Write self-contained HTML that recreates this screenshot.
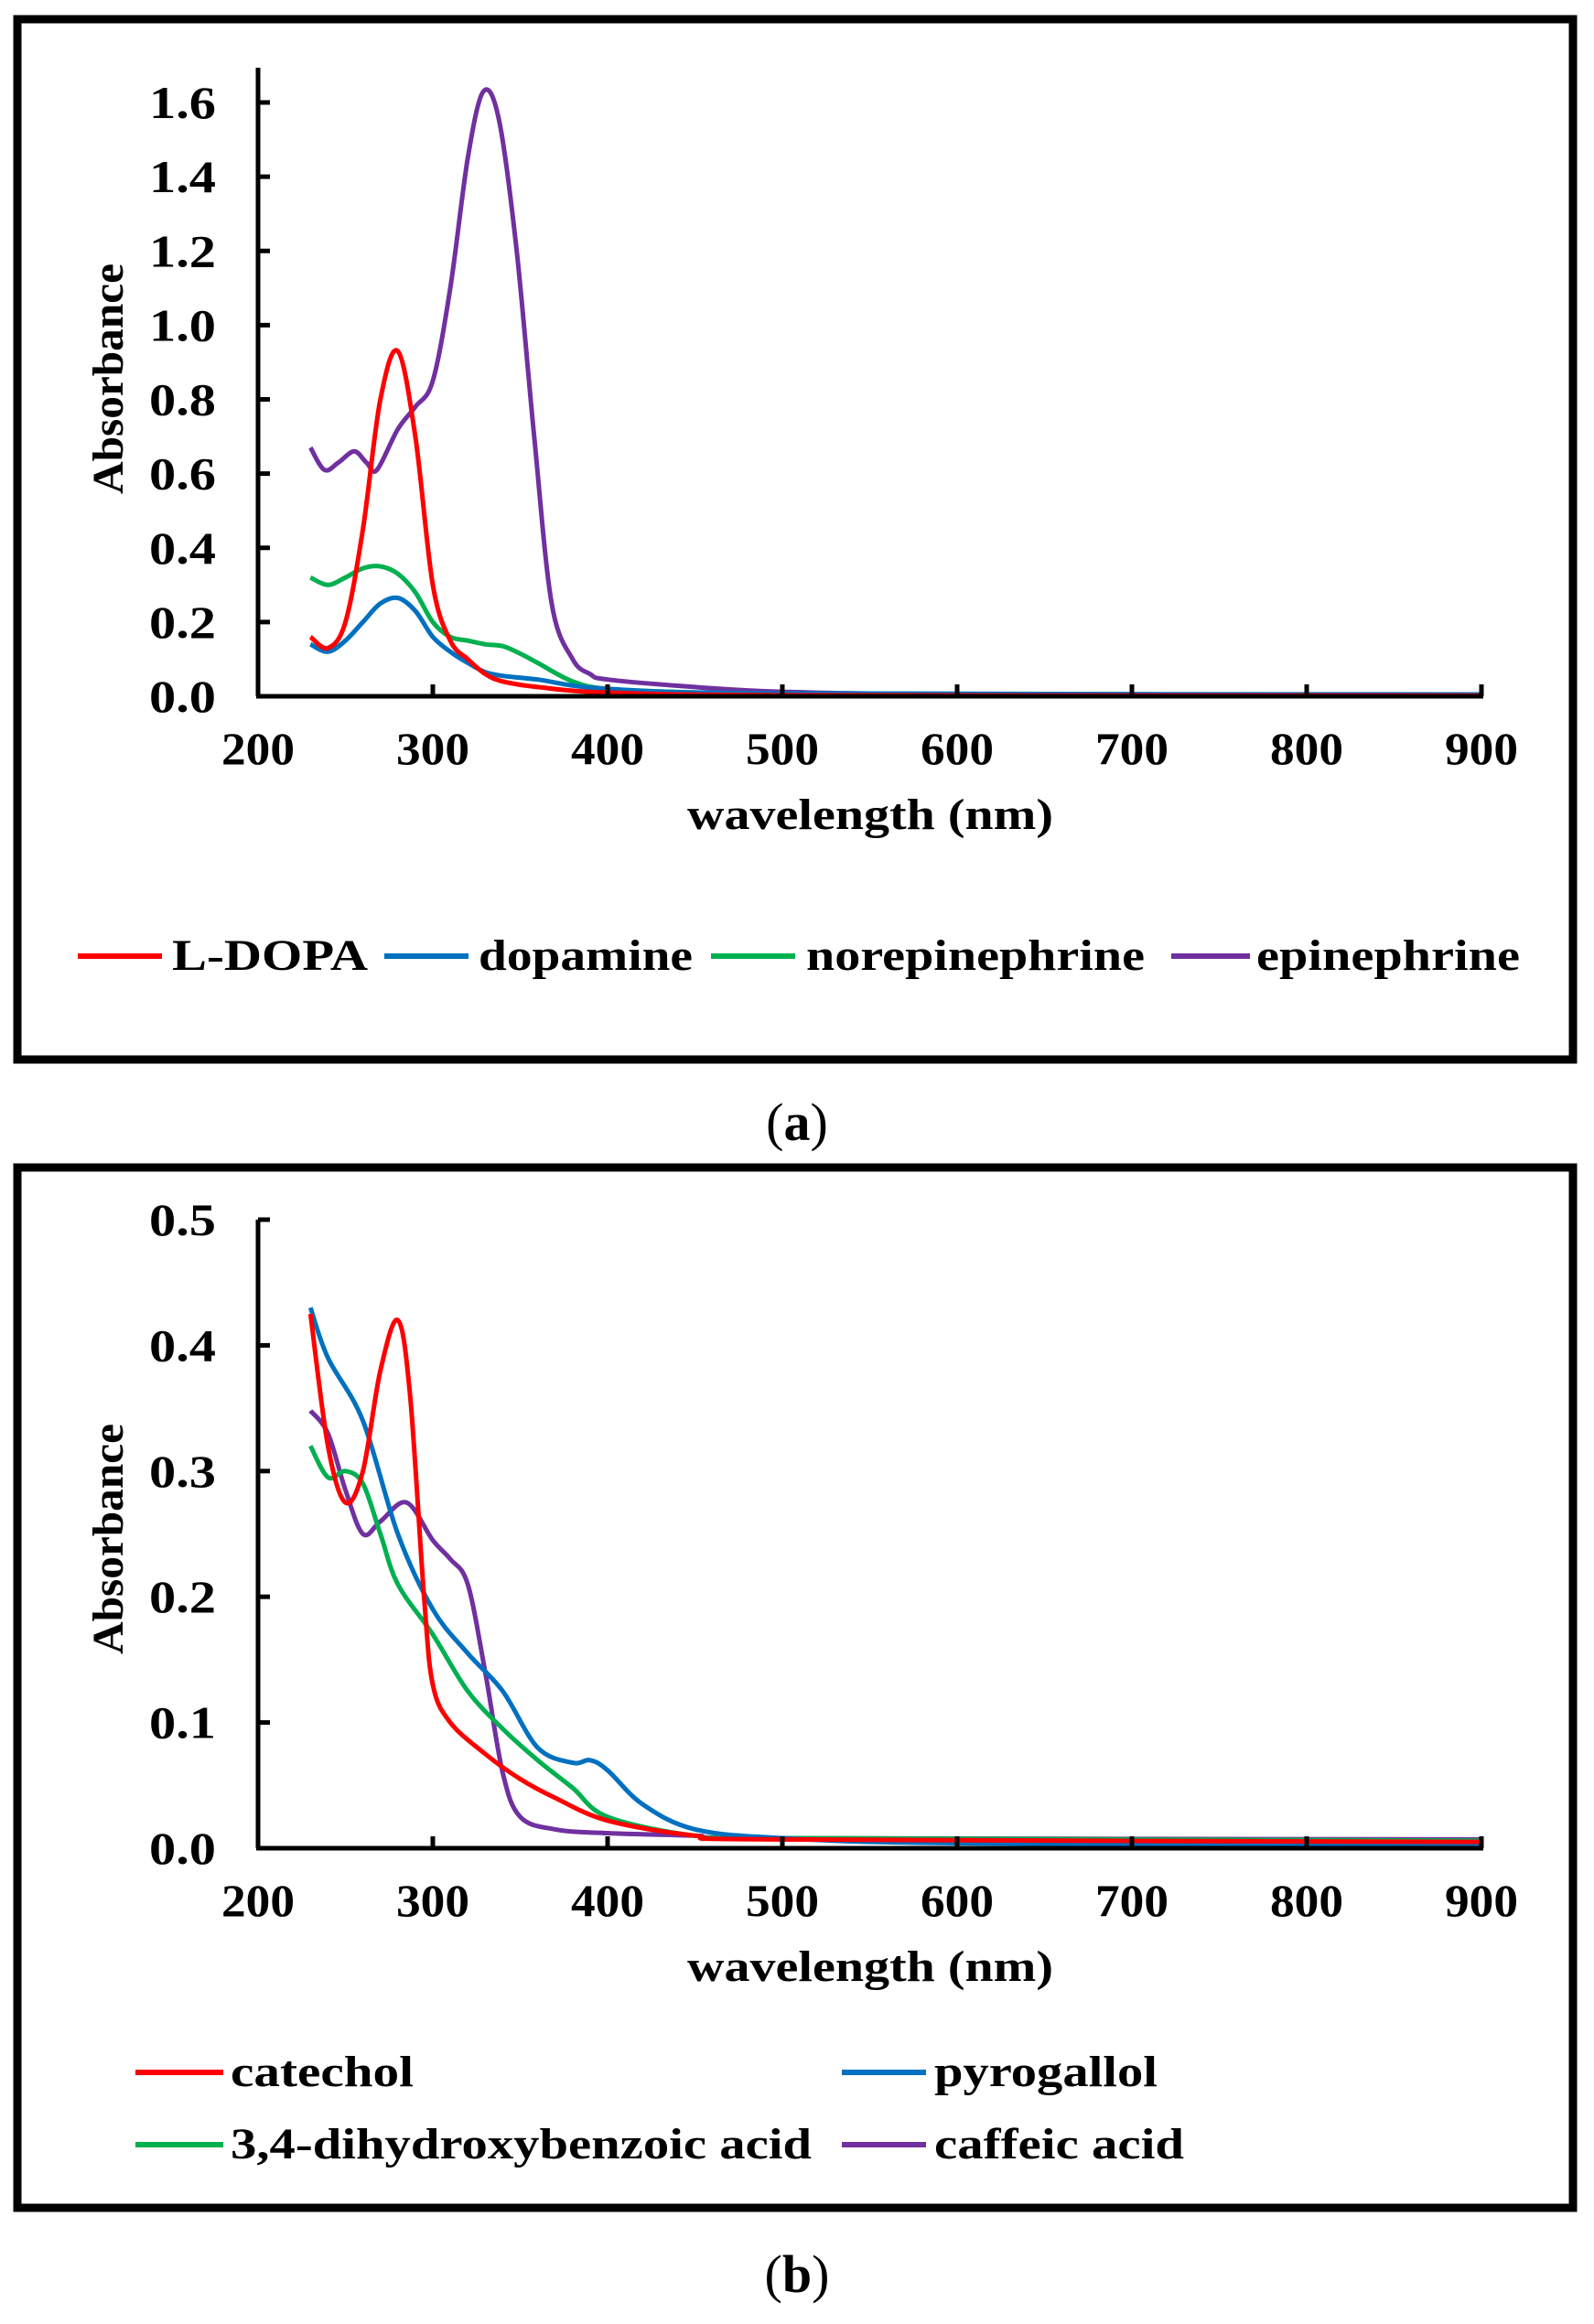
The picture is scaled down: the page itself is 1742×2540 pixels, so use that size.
<!DOCTYPE html>
<html><head><meta charset="utf-8">
<style>
html,body{margin:0;padding:0;background:#fff;}
svg{display:block;font-family:"Liberation Serif",serif;font-weight:bold;}
</style></head>
<body>
<svg id="root" width="1742" height="2540" viewBox="0 0 1742 2540" xmlns="http://www.w3.org/2000/svg">
<rect x="0" y="0" width="1742" height="2540" fill="#fff"/>
<rect x="19" y="21" width="1700" height="1137" fill="#fff" stroke="#000" stroke-width="9"/>
<rect x="19" y="1276" width="1700" height="1137" fill="#fff" stroke="#000" stroke-width="9"/>
<g id="ga"></g>
<g id="gb"></g>
<text x="871" y="1246" font-size="58" font-weight="normal" text-anchor="middle">(<tspan font-weight="bold">a</tspan>)</text>
<text x="871" y="2505" font-size="58" font-weight="normal" text-anchor="middle">(<tspan font-weight="bold">b</tspan>)</text>
</svg>
<script>
// ---- Chart A data ----
const xTicksA = [200,300,400,500,600,700,800,900];
const yTicksA = [0,0.2,0.4,0.6,0.8,1.0,1.2,1.4,1.6];
const yLabelsA = ["0.0","0.2","0.4","0.6","0.8","1.0","1.2","1.4","1.6"];
const seriesNamesA = ["L-DOPA","dopamine","norepinephrine","epinephrine"];
const ldopaX = [230,240,250,260,270,280,290,300,310,320,330,340,360,400,500,900];
const ldopaY = [0.16,0.13,0.2,0.45,0.8,0.93,0.7,0.3,0.15,0.1,0.06,0.04,0.025,0.01,0.003,0.002];
const dopamineX = [230,240,250,260,270,280,290,300,310,320,330,340,360,400,500,900];
const dopamineY = [0.14,0.12,0.15,0.2,0.25,0.265,0.23,0.16,0.12,0.09,0.065,0.055,0.045,0.02,0.008,0.005];
const norepiX = [230,240,250,260,270,280,290,300,310,320,330,340,350,360,380,400,450,500,900];
const norepiY = [0.32,0.3,0.32,0.345,0.35,0.33,0.28,0.2,0.16,0.15,0.14,0.135,0.115,0.09,0.04,0.02,0.01,0.006,0.004];
const epiX = [230,238,246,255,262,268,280,290,300,310,320,329,338,348,358,368,380,390,400,450,500,600,900];
const epiY = [0.67,0.61,0.63,0.66,0.63,0.61,0.72,0.78,0.85,1.1,1.45,1.63,1.55,1.2,0.7,0.25,0.1,0.06,0.045,0.025,0.012,0.006,0.004];
// ---- Chart B data ----
const xTicksB = [200,300,400,500,600,700,800,900];
const yTicksB = [0,0.1,0.2,0.3,0.4,0.5];
const yLabelsB = ["0.0","0.1","0.2","0.3","0.4","0.5"];
const seriesNamesB = ["catechol","pyrogallol","3,4-dihydroxybenzoic acid","caffeic acid"];
const catecholX = [230,240,250,260,270,280,287,295,300,310,330,350,370,400,450,500,900];
const catecholY = [0.425,0.32,0.275,0.3,0.38,0.42,0.36,0.2,0.13,0.1,0.075,0.055,0.04,0.022,0.01,0.007,0.005];
const pyroX = [230,240,260,280,300,320,340,360,380,390,400,420,450,500,600,900];
const pyroY = [0.43,0.39,0.34,0.25,0.19,0.155,0.125,0.08,0.068,0.07,0.062,0.035,0.015,0.008,0.004,0.002];
const dhbaX = [230,240,250,260,270,280,300,320,340,360,380,400,450,500,900];
const dhbaY = [0.32,0.295,0.3,0.29,0.25,0.21,0.17,0.125,0.095,0.07,0.048,0.025,0.01,0.008,0.006];
const caffX = [230,240,250,260,270,285,300,310,320,330,340,350,370,400,450,500,900];
const caffY = [0.348,0.33,0.285,0.25,0.26,0.275,0.245,0.23,0.21,0.14,0.06,0.025,0.015,0.012,0.01,0.008,0.007];

const NS="http://www.w3.org/2000/svg";
function mk(tag, attrs, parent){const e=document.createElementNS(NS,tag);for(const k in attrs)e.setAttribute(k,attrs[k]);parent.appendChild(e);return e;}
function smooth(pts){
  let d="M"+pts[0][0].toFixed(1)+","+pts[0][1].toFixed(1);
  for(let i=0;i<pts.length-1;i++){
    const p0=pts[Math.max(0,i-1)],p1=pts[i],p2=pts[i+1],p3=pts[Math.min(pts.length-1,i+2)];
    const c1=[p1[0]+(p2[0]-p0[0])/6,p1[1]+(p2[1]-p0[1])/6];
    const c2=[p2[0]-(p3[0]-p1[0])/6,p2[1]-(p3[1]-p1[1])/6];
    d+=" C"+c1[0].toFixed(1)+","+c1[1].toFixed(1)+" "+c2[0].toFixed(1)+","+c2[1].toFixed(1)+" "+p2[0].toFixed(1)+","+p2[1].toFixed(1);
  }
  return d;
}
function drawChart(g, cfg){
  const X=v=>cfg.x0+(v-200)/700*(cfg.x1-cfg.x0);
  const Y=v=>cfg.y0-(v/cfg.ymax)*(cfg.y0-cfg.ytop);
  cfg.series.forEach(s=>{
    const pts=s.xs.map((x,i)=>[X(x),Y(s.ys[i])]);
    const p=mk('path',{d:smooth(pts),fill:'none',stroke:s.color,'stroke-width':5,'stroke-linejoin':'round'},g);
    
    
  });
  const ya=mk('line',{x1:cfg.x0,y1:cfg.axisTop,x2:cfg.x0,y2:cfg.y0,stroke:'#000','stroke-width':5},g);
  
  
  const xa=mk('line',{x1:cfg.x0-2,y1:cfg.y0,x2:cfg.x1+2,y2:cfg.y0,stroke:'#000','stroke-width':5},g);
  
  
  cfg.yTicks.forEach((v,i)=>{
    const t=mk('line',{x1:cfg.x0,y1:Y(v),x2:cfg.x0+13,y2:Y(v),stroke:'#000','stroke-width':5},g);
    
    
    const l=mk('text',{x:cfg.x0-46,y:Y(v)+17,'font-size':50,'text-anchor':'end',textLength:73,lengthAdjust:'spacingAndGlyphs'},g);
    l.textContent=cfg.yLabels[i];
    
    
  });
  cfg.xTicks.forEach(v=>{
    if(v>200){
      const t=mk('line',{x1:X(v),y1:cfg.y0,x2:X(v),y2:cfg.y0-13,stroke:'#000','stroke-width':5},g);
      
      
    }
    const l=mk('text',{x:X(v),y:cfg.y0+74,'font-size':50,'text-anchor':'middle',textLength:80,lengthAdjust:'spacingAndGlyphs'},g);
    l.textContent=String(v);
    
    
  });
  const xt=mk('text',{x:951,y:cfg.y0+145,'font-size':48,'text-anchor':'middle',textLength:400,lengthAdjust:'spacingAndGlyphs'},g);
  xt.textContent='wavelength (nm)';
  
  
  const yt=mk('text',{x:0,y:0,'font-size':48,'text-anchor':'middle',textLength:252,lengthAdjust:'spacingAndGlyphs',transform:'translate(134,'+cfg.ytitleY+') rotate(-90)'},g);
  yt.textContent='Absorbance';
  
  
  cfg.legend.forEach(e=>{
    const ln=mk('line',{x1:e.lx,y1:e.y,x2:e.lx2,y2:e.y,stroke:e.color,'stroke-width':6},g);
    
    
    const tx=mk('text',{x:e.tx,y:e.y+15,'font-size':48,textLength:e.w,lengthAdjust:'spacingAndGlyphs'},g);
    tx.textContent=e.label;
    
    
  });
}
const RED="#ff0000",BLUE="#0070c0",GREEN="#00b050",PURPLE="#7030a0";
drawChart(document.getElementById('ga'),{
  x0:282,x1:1619,y0:761,ymax:1.6,ytop:112,axisTop:74,ytitleY:414,
  xTicks:xTicksA,yTicks:yTicksA,yLabels:yLabelsA,
  series:[
    {name:'epinephrine',xs:epiX,ys:epiY,color:PURPLE},
    {name:'norepinephrine',xs:norepiX,ys:norepiY,color:GREEN},
    {name:'dopamine',xs:dopamineX,ys:dopamineY,color:BLUE},
    {name:'l-dopa',xs:ldopaX,ys:ldopaY,color:RED}],
  legend:[
    {lx:85,lx2:177,y:1045,tx:188,w:214,label:seriesNamesA[0],color:RED},
    {lx:420,lx2:512,y:1045,tx:523,w:234,label:seriesNamesA[1],color:BLUE},
    {lx:777,lx2:869,y:1045,tx:881,w:370,label:seriesNamesA[2],color:GREEN},
    {lx:1280,lx2:1366,y:1045,tx:1373,w:288,label:seriesNamesA[3],color:PURPLE}]
});
drawChart(document.getElementById('gb'),{
  x0:282,x1:1619,y0:2020,ymax:0.5,ytop:1333,axisTop:1333,ytitleY:1682,
  xTicks:xTicksB,yTicks:yTicksB,yLabels:yLabelsB,
  series:[
    {name:'caffeic-acid',xs:caffX,ys:caffY,color:PURPLE},
    {name:'dihydroxybenzoic-acid',xs:dhbaX,ys:dhbaY,color:GREEN},
    {name:'pyrogallol',xs:pyroX,ys:pyroY,color:BLUE},
    {name:'catechol',xs:catecholX,ys:catecholY,color:RED}],
  legend:[
    {lx:148,lx2:244,y:2265,tx:252,w:200,label:seriesNamesB[0],color:RED},
    {lx:920,lx2:1012,y:2265,tx:1021,w:244,label:seriesNamesB[1],color:BLUE},
    {lx:148,lx2:244,y:2344,tx:252,w:635,label:seriesNamesB[2],color:GREEN},
    {lx:920,lx2:1012,y:2344,tx:1021,w:273,label:seriesNamesB[3],color:PURPLE}]
});
</script>
</body></html>
